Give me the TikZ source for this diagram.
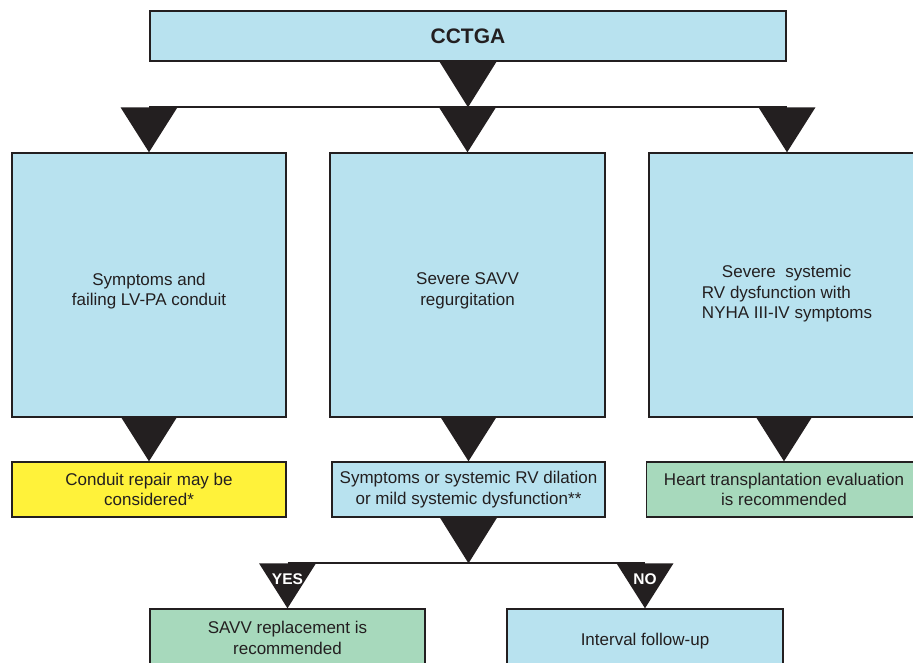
\documentclass[tikz,border=0pt]{standalone}
\usepackage{fontspec}
\setmainfont{Liberation Sans}
\usetikzlibrary{calc}
\definecolor{ink}{RGB}{35,31,32}
\definecolor{paleblue}{RGB}{184,226,239}
\definecolor{palegreen}{RGB}{167,217,188}
\definecolor{brightyellow}{RGB}{255,242,58}
\begin{document}
\begin{tikzpicture}[x=1pt,y=-1pt,
  every node/.style={text=ink, font=\fontsize{17}{20.5}\selectfont},
  panel/.style={draw=ink, line width=1.4pt, inner sep=0pt, align=center},
  bluebox/.style={panel, fill=paleblue},
  greenbox/.style={panel, fill=palegreen},
  yellowbox/.style={panel, fill=brightyellow},
  caption/.style={inner sep=0pt, align=center},
  bar/.style={draw=ink, line width=2pt},
  tag/.style={text=white, font=\fontsize{15.5}{18}\selectfont\bfseries, inner sep=0pt},
  downtri/.pic={\fill[ink] (0,0) -- (-28.5,-45) -- (28.5,-45) -- cycle;}
]
\useasboundingbox (0,0) rectangle (913,662);
\clip (0,0) rectangle (913,662);

% root
\node[bluebox, minimum width=636pt, minimum height=50pt] (cctga) at (468,36)
  {\fontsize{21}{25}\selectfont\bfseries CCTGA};

% first level: indications (captions sit a little below the panel centre)
\node[bluebox, minimum width=274pt, minimum height=264pt] (sym) at (149,285) {};
\node[bluebox, minimum width=275pt, minimum height=264pt] (savv) at (467.5,285) {};
\node[bluebox, minimum width=276pt, minimum height=264pt] (rvd) at (787,285) {};
\node[caption] (symtext) at ($(sym.center)+(0,6)$)
  {Symptoms and\\failing LV-PA conduit};
\node[caption] (savvtext) at ($(savv.center)+(0,6)$)
  {Severe SAVV\\regurgitation};
\node[caption, align=left] (rvdtext) at ($(rvd.center)+(0,9)$)
  {\hspace*{20pt}Severe\ \ systemic\\RV dysfunction with\\NYHA III-IV symptoms};

% second level: actions
\node[yellowbox, minimum width=274pt, minimum height=55pt] (repair) at (149,489.5)
  {Conduit repair may be\\considered*};
\node[bluebox, minimum width=273pt, minimum height=55pt] (dil) at (468.5,489.5)
  {Symptoms or systemic RV dilation\\or mild systemic dysfunction**};
\node[greenbox, minimum width=275pt, minimum height=55pt] (htx) at (784,489.5)
  {Heart transplantation evaluation\\is recommended};

% third level: decision outcome
\node[greenbox, minimum width=275pt, minimum height=58pt] (repl) at (287.5,638)
  {SAVV replacement is\\recommended};
\node[bluebox, minimum width=276pt, minimum height=58pt] (fu) at (645,638) {};
\node[caption] (futext) at ($(fu.center)+(0,3)$) {Interval follow-up};

% split below the root
\coordinate (hubA) at ($(sym.north)+(0,-45)$);
\coordinate (hubB) at ($(rvd.north)+(0,-45)$);
\draw[bar] (hubA) -- (hubB);
\fill[ink] ($(cctga.south)+(-28.5,0)$) -- ($(cctga.south)+(28.5,0)$)
  -- (cctga.south |- hubA) -- cycle;
\pic at (sym.north) {downtri};
\pic at (savv.north) {downtri};
\pic at (rvd.north) {downtri};

% arrows into the second level
\pic at (repair.north) {downtri};
\pic at (dil.north) {downtri};
\pic at (htx.north) {downtri};

% yes / no split
\coordinate (hubC) at ($(repl.north)+(0,-45)$);
\coordinate (hubD) at ($(fu.north)+(0,-45)$);
\draw[bar] (hubC) -- (hubD);
\fill[ink] ($(dil.south)+(-28.5,0)$) -- ($(dil.south)+(28.5,0)$)
  -- (dil.south |- hubC) -- cycle;
\pic at (repl.north) {downtri};
\pic at (fu.north) {downtri};
\node[tag] (yes) at ($(repl.north)+(0,-29)$) {YES};
\node[tag] (no) at ($(fu.north)+(0,-29)$) {NO};
\end{tikzpicture}
\end{document}
